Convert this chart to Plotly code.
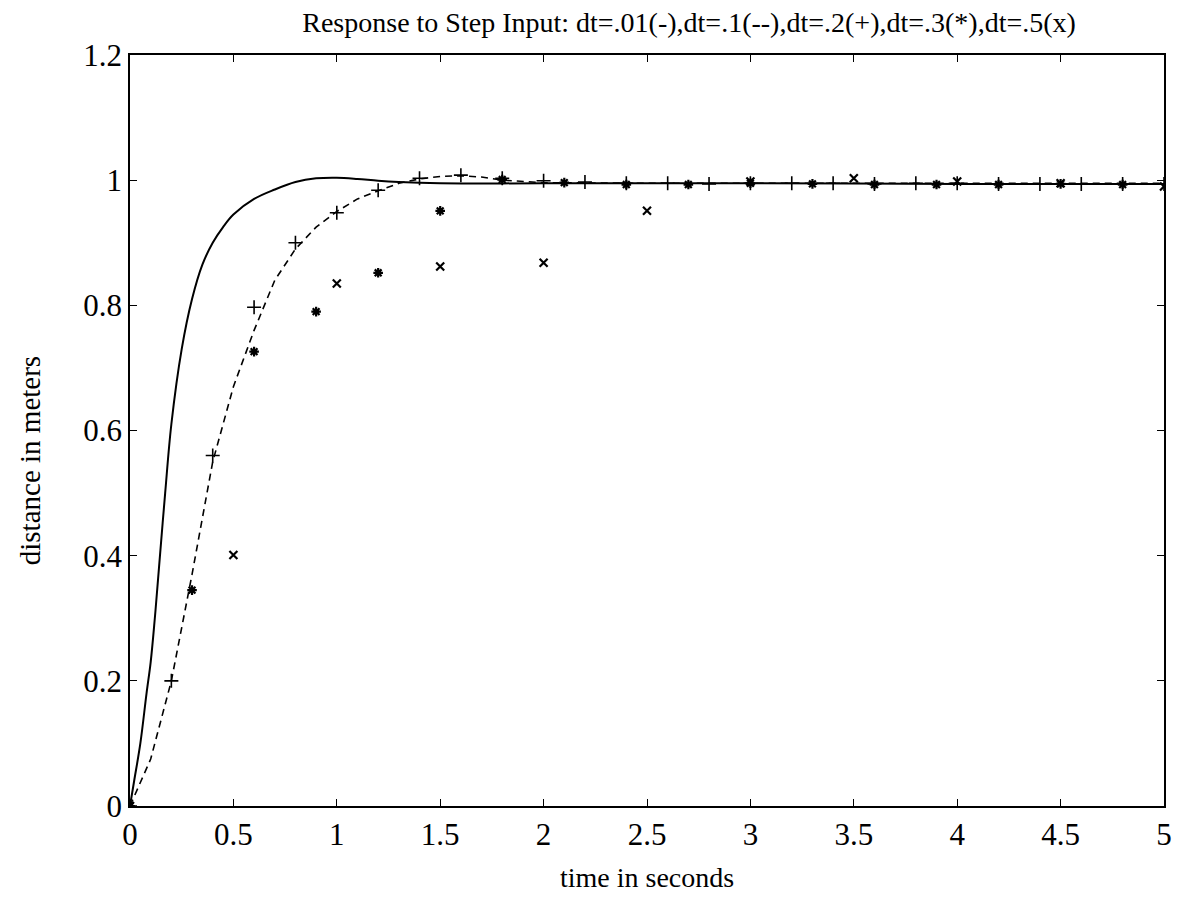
import plotly.graph_objects as go

# dt = .01 (solid line)
t_01 = [0, 0.02, 0.05, 0.08, 0.10, 0.12, 0.14, 0.17, 0.20, 0.25, 0.30, 0.35, 0.40, 0.45,
        0.50, 0.60, 0.70, 0.80, 0.90, 1.00, 1.10, 1.20, 1.30, 1.50, 2.00, 3.00, 4.00, 5.00]
y_01 = [0, 0.04, 0.10, 0.18, 0.23, 0.30, 0.38, 0.50, 0.61, 0.73, 0.81, 0.865, 0.90, 0.925,
        0.945, 0.97, 0.985, 0.997, 1.003, 1.004, 1.002, 0.999, 0.997, 0.995, 0.995, 0.995, 0.994, 0.994]

# dt = .1 (dashed line)
t_1 = [0, 0.1, 0.2, 0.3, 0.4, 0.5, 0.6, 0.7, 0.8, 0.9, 1.0, 1.1, 1.2, 1.3, 1.4, 1.5, 1.6,
       1.7, 1.8, 1.9, 2.0, 2.5, 3.0, 3.5, 4.0, 4.5, 5.0]
y_1 = [0, 0.075, 0.20, 0.37, 0.55, 0.67, 0.76, 0.84, 0.89, 0.925, 0.95, 0.97, 0.983, 0.995,
       1.002, 1.006, 1.007, 1.005, 1.0, 0.998, 0.996, 0.995, 0.995, 0.995, 0.995, 0.995, 0.995]

# dt = .2 (+)
t_2 = [0, 0.2, 0.4, 0.6, 0.8, 1.0, 1.2, 1.4, 1.6, 1.8, 2.0, 2.2, 2.4, 2.6, 2.8, 3.0, 3.2,
       3.4, 3.6, 3.8, 4.0, 4.2, 4.4, 4.6, 4.8, 5.0]
y_2 = [0, 0.20, 0.56, 0.797, 0.90, 0.948, 0.984, 1.003, 1.008, 1.003, 0.999, 0.997, 0.995,
       0.995, 0.994, 0.995, 0.995, 0.995, 0.994, 0.995, 0.995, 0.994, 0.994, 0.994, 0.994, 0.994]

# dt = .3 (*)
t_3 = [0, 0.3, 0.6, 0.9, 1.2, 1.5, 1.8, 2.1, 2.4, 2.7, 3.0, 3.3, 3.6, 3.9, 4.2, 4.5, 4.8]
y_3 = [0, 0.345, 0.726, 0.79, 0.852, 0.951, 1.001, 0.996, 0.993, 0.993, 0.995, 0.994,
       0.993, 0.993, 0.993, 0.994, 0.993]

# dt = .5 (x)
t_5 = [0, 0.5, 1.0, 1.5, 2.0, 2.5, 3.0, 3.5, 4.0, 4.5, 5.0]
y_5 = [0, 0.401, 0.835, 0.862, 0.868, 0.951, 0.998, 1.003, 0.998, 0.995, 0.99]

x_ticks = [0, 0.5, 1, 1.5, 2, 2.5, 3, 3.5, 4, 4.5, 5]
x_tick_labels = ["0", "0.5", "1", "1.5", "2", "2.5", "3", "3.5", "4", "4.5", "5"]
y_ticks = [0, 0.2, 0.4, 0.6, 0.8, 1, 1.2]
y_tick_labels = ["0", "0.2", "0.4", "0.6", "0.8", "1", "1.2"]

title_text = "Response to Step Input: dt=.01(-),dt=.1(--),dt=.2(+),dt=.3(*),dt=.5(x)"
x_title = "time in seconds"
y_title = "distance in meters"

FONT = "Liberation Serif"

fig = go.Figure()
fig.add_trace(go.Scatter(x=t_01, y=y_01, mode="lines", name="dt=.01",
                         line=dict(color="black", width=2), line_shape="spline"))
fig.add_trace(go.Scatter(x=t_1, y=y_1, mode="lines", name="dt=.1",
                         line=dict(color="black", width=1.6, dash="7px,5px")))
fig.add_trace(go.Scatter(x=t_2, y=y_2, mode="markers", name="dt=.2",
                         marker=dict(symbol="cross-thin", size=10, color="black",
                                     line=dict(color="black", width=1.6))))
fig.add_trace(go.Scatter(x=t_3, y=y_3, mode="markers", name="dt=.3",
                         marker=dict(symbol="asterisk", size=8, color="black",
                                     line=dict(color="black", width=2.2))))
fig.add_trace(go.Scatter(x=t_5, y=y_5, mode="markers", name="dt=.5",
                         marker=dict(symbol="x-thin", size=8, color="black",
                                     line=dict(color="black", width=2.2))))

axis_common = dict(showgrid=False, zeroline=False, showline=True, linecolor="black",
                   linewidth=1.5, mirror="ticks", ticks="inside", ticklen=7,
                   tickwidth=1.2, tickcolor="black",
                   tickfont=dict(family=FONT, size=31, color="black"))

fig.update_layout(
    width=1184, height=911,
    margin=dict(l=130, r=12, t=55, b=105),
    paper_bgcolor="white", plot_bgcolor="white",
    showlegend=False,
    title=dict(text=title_text, x=0.582, xanchor="center", y=0.976, yanchor="middle",
               font=dict(family=FONT, size=28, color="black")),
    xaxis=dict(range=[0, 5], tickvals=x_ticks, ticktext=x_tick_labels, **axis_common),
    yaxis=dict(range=[0, 1.2], tickvals=y_ticks, ticktext=y_tick_labels, **axis_common),
    annotations=[
        dict(text=x_title, xref="paper", yref="paper", x=0.5, y=-0.095,
             xanchor="center", yanchor="middle", showarrow=False,
             font=dict(family=FONT, size=28, color="black")),
        dict(text=y_title, xref="paper", yref="paper", x=-0.097, y=0.46,
             xanchor="center", yanchor="middle", textangle=-90, showarrow=False,
             font=dict(family=FONT, size=29, color="black")),
    ],
)

fig.write_html("out.html")
